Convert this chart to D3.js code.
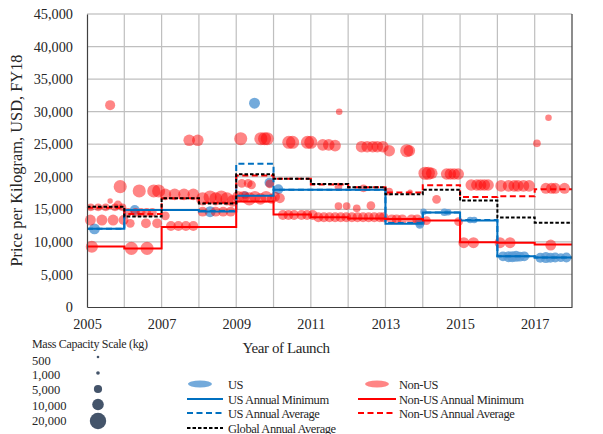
<!doctype html>
<html>
<head>
<meta charset="utf-8">
<script src="https://d3js.org/d3.v7.min.js"></script>
<style>
  body { margin: 0; background: #fff; }
  text { font-family: "Liberation Serif", "Times New Roman", serif; fill: #262626; }
</style>
</head>
<body>
<svg width="603" height="434"></svg>
<script>
// annual step series, one value per launch year (step runs year -> year+1)
var years = [2005, 2006, 2007, 2008, 2009, 2010, 2011, 2012, 2013, 2014, 2015, 2016, 2017];
var usMin     = [12000, 14900, 14900, 14650, 17100, 18000, 18000, 18000, 12800, 14500, 13300, 7800, 7600];
var usAvg     = [12000, 14900, 14900, 14750, 22000, 18000, 18000, 18000, 12900, 14500, 13350, 7800, 7600];
var nonUsMin  = [9300, 9000, 12300, 12300, 16200, 14200, 13800, 13600, 13500, 13300, 9950, 9850, 9600];
var nonUsAvg  = [15250, 14300, 16700, 16000, 20200, 19700, 18800, 18400, 17600, 18700, 16900, 17000, 18100];
var globalAvg = [15400, 13900, 16700, 15900, 20400, 19700, 18900, 18400, 17300, 18000, 16350, 13750, 12950];

// launches: [year, price per kg, mass capacity kg]
var usPoints = [
  [2005.2, 12000, 8900], [2006.28, 14900, 7200], [2008.3, 14640, 8900],
  [2009.24, 17200, 4400], [2009.49, 31300, 8900], [2009.89, 19100, 7200], [2010.13, 18080, 7200],
  [2013.93, 13000, 7200], [2013.92, 12700, 5700], [2014.02, 14640, 3200],
  [2014.58, 14550, 4400], [2014.68, 14550, 3200], [2015.27, 13360, 3200], [2015.38, 13360, 3200],
  [2016.15, 7780, 7200], [2016.3, 7730, 8900], [2016.4, 7730, 8900], [2016.5, 7780, 8900],
  [2016.6, 7730, 7200], [2016.72, 7780, 7200],
  [2017.15, 7570, 7200], [2017.3, 7600, 8900], [2017.42, 7570, 7200], [2017.55, 7600, 7200],
  [2017.7, 7570, 5700], [2017.85, 7600, 7200]
];
var nonUsPoints = [
  [2005.13, 9260, 11000],
  [2005.09, 13360, 8900], [2005.4, 13360, 8900], [2005.7, 13360, 8900], [2005.98, 13360, 7200],
  [2005.1, 15310, 4400], [2005.3, 15310, 4400], [2005.5, 15310, 4400], [2005.75, 15310, 4400], [2005.95, 15310, 4400],
  [2005.62, 16280, 2200], [2005.89, 18480, 12800], [2005.83, 15670, 5700], [2005.62, 31000, 7500],
  [2006.19, 9000, 12800], [2006.61, 9000, 12800],
  [2006.1, 14540, 5700], [2006.3, 14540, 5700], [2006.45, 14540, 5700], [2006.6, 14540, 5700], [2006.75, 14540, 5700],
  [2006.16, 12850, 5700], [2006.58, 12850, 7200], [2006.88, 12850, 7200],
  [2006.4, 17820, 12800], [2006.79, 17820, 12800], [2006.92, 17820, 12800],
  [2007.1, 17300, 10000], [2007.35, 17300, 10000], [2007.6, 17300, 10000], [2007.85, 17300, 10000],
  [2007.1, 14000, 5700],
  [2007.25, 12440, 7200], [2007.45, 12440, 7200], [2007.65, 12440, 7200], [2007.85, 12440, 7200],
  [2007.74, 25600, 10000], [2007.97, 25600, 10000],
  [2008.1, 16600, 12800], [2008.3, 16900, 12800], [2008.45, 16600, 12800], [2008.6, 16900, 12800],
  [2008.75, 16600, 12800], [2008.9, 16300, 10000],
  [2008.1, 14640, 7200], [2008.45, 14640, 7200], [2008.65, 14640, 7200], [2008.85, 14640, 7200],
  [2009.12, 25850, 12800], [2009.66, 25850, 12800], [2009.76, 25850, 12800], [2009.83, 25850, 12800],
  [2009.15, 19000, 5700], [2009.32, 19000, 5700], [2009.41, 18740, 5700],
  [2009.05, 16940, 10000], [2009.2, 16940, 10000], [2009.35, 16600, 12800], [2009.5, 16940, 10000],
  [2009.65, 16600, 10000], [2009.8, 16940, 10000], [2009.95, 16600, 7200], [2009.9, 18900, 5700],
  [2010.04, 16940, 7200], [2010.17, 16700, 7200],
  [2010.41, 25300, 12800], [2010.51, 25300, 12800], [2010.91, 25300, 12800], [2011.0, 25300, 12800],
  [2010.25, 14130, 7200], [2010.4, 14130, 7200], [2010.55, 14130, 7200], [2010.75, 14130, 7200], [2010.9, 14130, 7200],
  [2011.05, 14130, 7200], [2011.2, 13780, 7200], [2011.35, 13780, 7200], [2011.5, 13780, 7200],
  [2011.65, 13780, 7200], [2011.8, 13780, 7200], [2011.95, 13780, 7200],
  [2011.32, 24900, 10000], [2011.48, 24900, 10000], [2011.65, 24780, 10000],
  [2011.76, 30000, 3200], [2011.74, 18480, 4400], [2011.74, 15500, 4400], [2011.96, 15500, 4400],
  [2012.1, 13780, 7200], [2012.25, 13780, 7200], [2012.4, 13780, 7200], [2012.55, 13780, 7200],
  [2012.7, 13780, 7200], [2012.85, 13780, 7200], [2012.95, 13780, 7200],
  [2012.36, 24620, 10000], [2012.51, 24620, 10000], [2012.66, 24620, 10000], [2012.78, 24620, 10000], [2012.93, 24620, 10000],
  [2012.41, 18230, 4400], [2012.23, 15160, 4400], [2012.61, 15560, 5700],
  [2013.1, 24000, 10000], [2013.57, 24000, 12800], [2013.64, 24000, 10000],
  [2013.1, 17710, 4400], [2013.66, 17620, 2500],
  [2013.17, 13470, 7200], [2013.3, 13470, 7200], [2013.45, 13470, 7200], [2013.7, 13470, 7200], [2013.85, 13470, 7200],
  [2014.1, 13260, 5700],
  [2014.06, 20540, 12800], [2014.15, 20540, 12800], [2014.24, 20540, 10000],
  [2014.64, 20430, 10000], [2014.74, 20430, 10000], [2014.84, 20430, 10000], [2014.95, 20430, 10000],
  [2014.37, 16540, 5700], [2014.96, 13100, 5700],
  [2015.1, 9880, 8900], [2015.36, 9880, 8900],
  [2015.3, 18740, 10000], [2015.45, 18740, 10000], [2015.55, 18740, 10000], [2015.65, 18740, 10000], [2015.75, 18740, 10000],
  [2016.07, 9880, 8900], [2016.34, 9880, 8900],
  [2016.1, 18600, 10000], [2016.3, 18600, 10000], [2016.45, 18600, 10000], [2016.55, 18600, 10000],
  [2016.7, 18600, 10000], [2016.85, 18600, 10000],
  [2017.43, 9520, 8900],
  [2017.3, 18230, 8900], [2017.45, 18230, 8900], [2017.55, 18230, 8900], [2017.8, 18230, 8900],
  [2017.06, 25140, 4400], [2017.37, 29080, 3200]
];

var yTicks = [0, 5000, 10000, 15000, 20000, 25000, 30000, 35000, 40000, 45000];
var xTicks = [2005, 2007, 2009, 2011, 2013, 2015, 2017];
var massScale = [500, 1000, 5000, 10000, 20000];

var svg = d3.select("svg");
var plotLeft = 87, plotRight = 572, plotTop = 14, plotBottom = 307;

var x = d3.scaleLinear().domain([2005, 2018]).range([plotLeft, plotRight]);
var y = d3.scaleLinear().domain([0, 45000]).range([plotBottom, plotTop]);
var r = d3.scaleSqrt().domain([0, 20000]).range([0, 8.2]);

// grid
var grid = svg.append("g");
grid.selectAll(".vg").data(d3.range(2006, 2018)).enter().append("line")
  .attr("x1", function(d) { return x(d); }).attr("x2", function(d) { return x(d); })
  .attr("y1", plotTop).attr("y2", plotBottom)
  .attr("stroke", "#bfbfbf").attr("stroke-width", 1.2);
grid.selectAll(".hg").data(yTicks.slice(1)).enter().append("line")
  .attr("x1", plotLeft).attr("x2", plotRight)
  .attr("y1", function(d) { return y(d); }).attr("y2", function(d) { return y(d); })
  .attr("stroke", "#bfbfbf").attr("stroke-width", 1.2);

// bubbles
var usFill = "#5b9bd5", usOp = 0.85, nonFill = "#ff0000", nonOp = 0.48;
svg.append("g").selectAll("circle").data(usPoints).enter().append("circle")
  .attr("cx", function(d) { return x(d[0]); })
  .attr("cy", function(d) { return y(d[1]); })
  .attr("r", function(d) { return r(d[2]); })
  .attr("fill", usFill).attr("fill-opacity", usOp);
svg.append("g").selectAll("circle").data(nonUsPoints).enter().append("circle")
  .attr("cx", function(d) { return x(d[0]); })
  .attr("cy", function(d) { return y(d[1]); })
  .attr("r", function(d) { return r(d[2]); })
  .attr("fill", nonFill).attr("fill-opacity", nonOp);

// step lines
var step = d3.line()
  .x(function(d) { return x(d[0]); })
  .y(function(d) { return y(d[1]); })
  .curve(d3.curveStepAfter);

function stepData(vals) {
  var pts = years.map(function(yr, i) { return [yr, vals[i]]; });
  pts.push([2018, vals[vals.length - 1]]);
  return pts;
}

var series = [
  { vals: usMin, color: "#0070c0", dash: null },
  { vals: usAvg, color: "#0070c0", dash: "6,3.5" },
  { vals: nonUsMin, color: "#ff0000", dash: null },
  { vals: nonUsAvg, color: "#ff0000", dash: "6,3.5" },
  { vals: globalAvg, color: "#000000", dash: "3.5,2" }
];
series.forEach(function(s) {
  svg.append("path")
    .attr("d", step(stepData(s.vals)))
    .attr("fill", "none")
    .attr("stroke", s.color)
    .attr("stroke-width", 2)
    .attr("stroke-dasharray", s.dash);
});

// axes frame
svg.append("line").attr("x1", plotLeft).attr("x2", plotRight).attr("y1", plotTop).attr("y2", plotTop)
  .attr("stroke", "#d0d0d0").attr("stroke-width", 1.2);
svg.append("line").attr("x1", plotRight).attr("x2", plotRight).attr("y1", plotTop).attr("y2", plotBottom)
  .attr("stroke", "#404040").attr("stroke-width", 1.2);

var yAxis = svg.append("g").attr("transform", "translate(" + plotLeft + ",0)")
  .call(d3.axisLeft(y).tickValues(yTicks).tickSize(0).tickPadding(14)
    .tickFormat(d3.format(",")));
var xAxis = svg.append("g").attr("transform", "translate(0," + plotBottom + ")")
  .call(d3.axisBottom(x).tickValues(xTicks).tickSize(0).tickPadding(12)
    .tickFormat(d3.format("d")));
[yAxis, xAxis].forEach(function(a) {
  a.select(".domain").attr("stroke", "#404040").attr("stroke-width", 1.2);
  a.selectAll("text").style("font-family", "Liberation Serif").style("font-size", "14.3px").attr("fill", "#262626");
});

// titles
svg.append("text")
  .attr("transform", "translate(22," + ((plotTop + plotBottom) / 2) + ") rotate(-90)")
  .attr("text-anchor", "middle")
  .style("font-size", "16.4px")
  .text("Price per Kilogram, USD, FY18");
svg.append("text")
  .attr("x", 286).attr("y", 353)
  .attr("text-anchor", "middle")
  .style("font-size", "15px").style("letter-spacing", "-0.4px")
  .text("Year of Launch");

// mass legend
svg.append("text").attr("x", 32).attr("y", 348)
  .style("font-size", "12px").style("letter-spacing", "-0.3px")
  .text("Mass Capacity Scale (kg)");
var massY = [357, 373, 389, 404.5, 421];
var massLabelY = [365, 378.5, 394, 409.5, 425];
massScale.forEach(function(m, i) {
  svg.append("text").attr("x", 32).attr("y", massLabelY[i])
    .style("font-size", "12.5px").text(d3.format(",")(m));
  svg.append("circle").attr("cx", 98).attr("cy", massY[i]).attr("r", Math.max(1, r(m)))
    .attr("fill", "#44546a");
});

// series legend
var leg = svg.append("g").style("font-size", "12.5px").style("letter-spacing", "-0.45px");
function ellipseItem(cx, tx, yy, color, op, label) {
  leg.append("ellipse").attr("cx", cx).attr("cy", yy).attr("rx", 12).attr("ry", 3.5)
    .attr("fill", color).attr("fill-opacity", op);
  leg.append("text").attr("x", tx).attr("y", yy + 4.5).text(label);
}
function lineItem(x1, x2, tx, yy, color, dash, label) {
  leg.append("line").attr("x1", x1).attr("x2", x2).attr("y1", yy).attr("y2", yy)
    .attr("stroke", color).attr("stroke-width", 2).attr("stroke-dasharray", dash);
  leg.append("text").attr("x", tx).attr("y", yy + 4.5).text(label);
}
ellipseItem(200, 228, 384, usFill, usOp, "US");
ellipseItem(377, 399, 384, nonFill, nonOp, "Non-US");
lineItem(187, 223, 228, 399, "#0070c0", null, "US Annual Minimum");
lineItem(358, 396, 399, 399, "#ff0000", null, "Non-US Annual Minimum");
lineItem(187, 223, 228, 413, "#0070c0", "6,3.5", "US Annual Average");
lineItem(358, 396, 399, 413, "#ff0000", "6,3.5", "Non-US Annual Average");
lineItem(187, 223, 228, 428, "#000000", "3.5,2", "Global Annual Average");
</script>
</body>
</html>
